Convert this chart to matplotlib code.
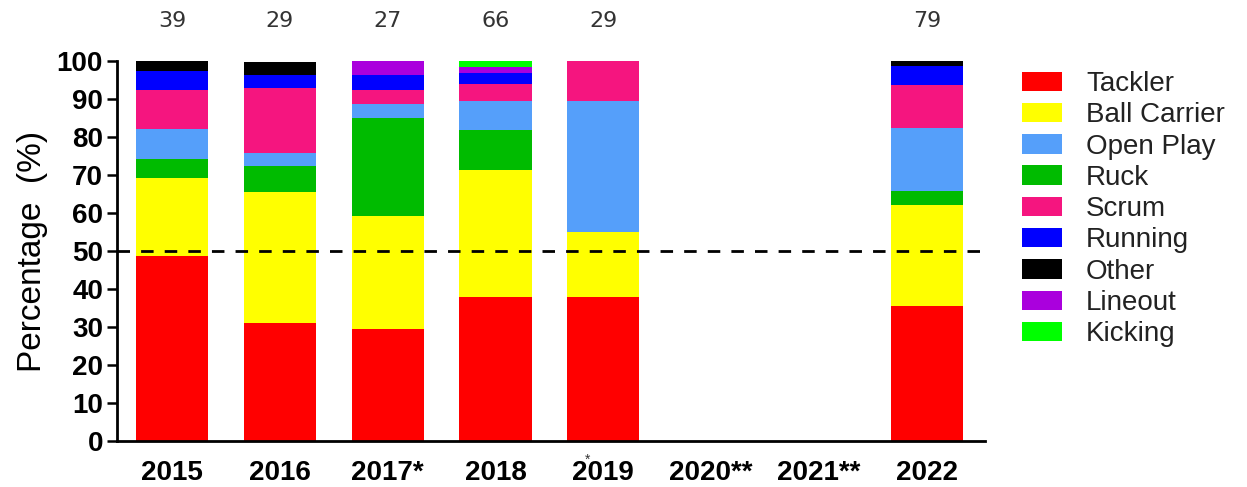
import matplotlib
matplotlib.use("Agg")
import matplotlib.pyplot as plt
import numpy as np

plt.rcParams['font.family'] = ['Liberation Sans', 'DejaVu Sans']

years = ['2015', '2016', '2017*', '2018', '2019', '2020**', '2021**', '2022']
counts = ['39', '29', '27', '66', '29', '', '', '79']

# percentages per mechanism (legend order)
tackler = [48.7, 31.0, 29.6, 37.9, 37.9, 0, 0, 35.4]
ball_carrier = [20.5, 34.5, 29.6, 33.3, 17.2, 0, 0, 26.6]
open_play = [7.7, 3.4, 3.7, 7.6, 34.5, 0, 0, 16.5]
ruck = [5.1, 6.9, 25.9, 10.6, 0, 0, 0, 3.8]
scrum = [10.3, 17.2, 3.7, 4.5, 10.3, 0, 0, 11.4]
running = [5.1, 3.4, 3.7, 3.0, 0, 0, 0, 5.1]
other = [2.6, 3.4, 0, 0, 0, 0, 0, 1.3]
lineout = [0, 0, 3.7, 1.5, 0, 0, 0, 0]
kicking = [0, 0, 0, 1.5, 0, 0, 0, 0]

labels = ['Tackler', 'Ball Carrier', 'Open Play', 'Ruck', 'Scrum',
          'Running', 'Other', 'Lineout', 'Kicking']
series = [tackler, ball_carrier, open_play, ruck, scrum, running, other, lineout, kicking]
colors = ['#FF0000', '#FFFF00', '#559FFA', '#00BB00', '#F5157F',
          '#0000FF', '#000000', '#AA00DD', '#00FF00']
# order the segments are stacked in (bottom to top)
stack_order = [0, 1, 3, 2, 4, 5, 6, 7, 8]

fig = plt.figure(figsize=(12.47, 4.87), dpi=100)
ax = fig.add_axes([117 / 1247, 1 - 441 / 487, (985 - 117) / 1247, 380 / 487])

x = np.arange(len(years))
bottom = np.zeros(len(years))
handles = {}
for i in stack_order:
    vals = np.array(series[i], dtype=float)
    h = ax.bar(x, vals, width=0.67, bottom=bottom, color=colors[i],
               edgecolor='none', label=labels[i], zorder=2)
    handles[i] = h
    bottom += vals

ax.axhline(50, color='black', lw=2, ls=(0, (4.5, 4)), zorder=3)

for xi, c in zip(x, counts):
    ax.text(xi, 110.5, c, ha='center', va='center', fontsize=16,
            color='#333333', family=['DejaVu Sans'], clip_on=False)

ax.set_xlim(-0.51, 7.54)
ax.set_ylim(0, 100)
ax.set_yticks(np.arange(0, 101, 10))
ax.set_xticks(x)
ax.set_xticklabels(years, fontsize=20, fontweight='bold')
ax.tick_params(axis='y', labelsize=20, width=1.8, length=7, pad=3)
for t in ax.get_yticklabels():
    t.set_fontweight('bold')
ax.tick_params(axis='x', length=0, pad=14)
ax.set_ylabel('Percentage  (%)', fontsize=24, labelpad=6)

for s in ['top', 'right']:
    ax.spines[s].set_visible(False)
for s in ['left', 'bottom']:
    ax.spines[s].set_linewidth(2)

# small asterisk over the 2019 label
ax.text(4 - 0.15, -0.05, '*', transform=ax.get_xaxis_transform(),
        ha='center', va='center', fontsize=10, color='#333333')

leg = fig.legend([handles[i] for i in range(len(labels))], labels,
                 loc='upper left', bbox_to_anchor=(1022 / 1247, 1 - 71 / 487),
                 bbox_transform=fig.transFigure, frameon=False, fontsize=20,
                 handlelength=1.45, handleheight=0.7, handletextpad=0.85,
                 labelspacing=0.19, borderpad=0, borderaxespad=0)
for t in leg.get_texts():
    t.set_color('#222222')

fig.savefig('out.png', dpi=100)
